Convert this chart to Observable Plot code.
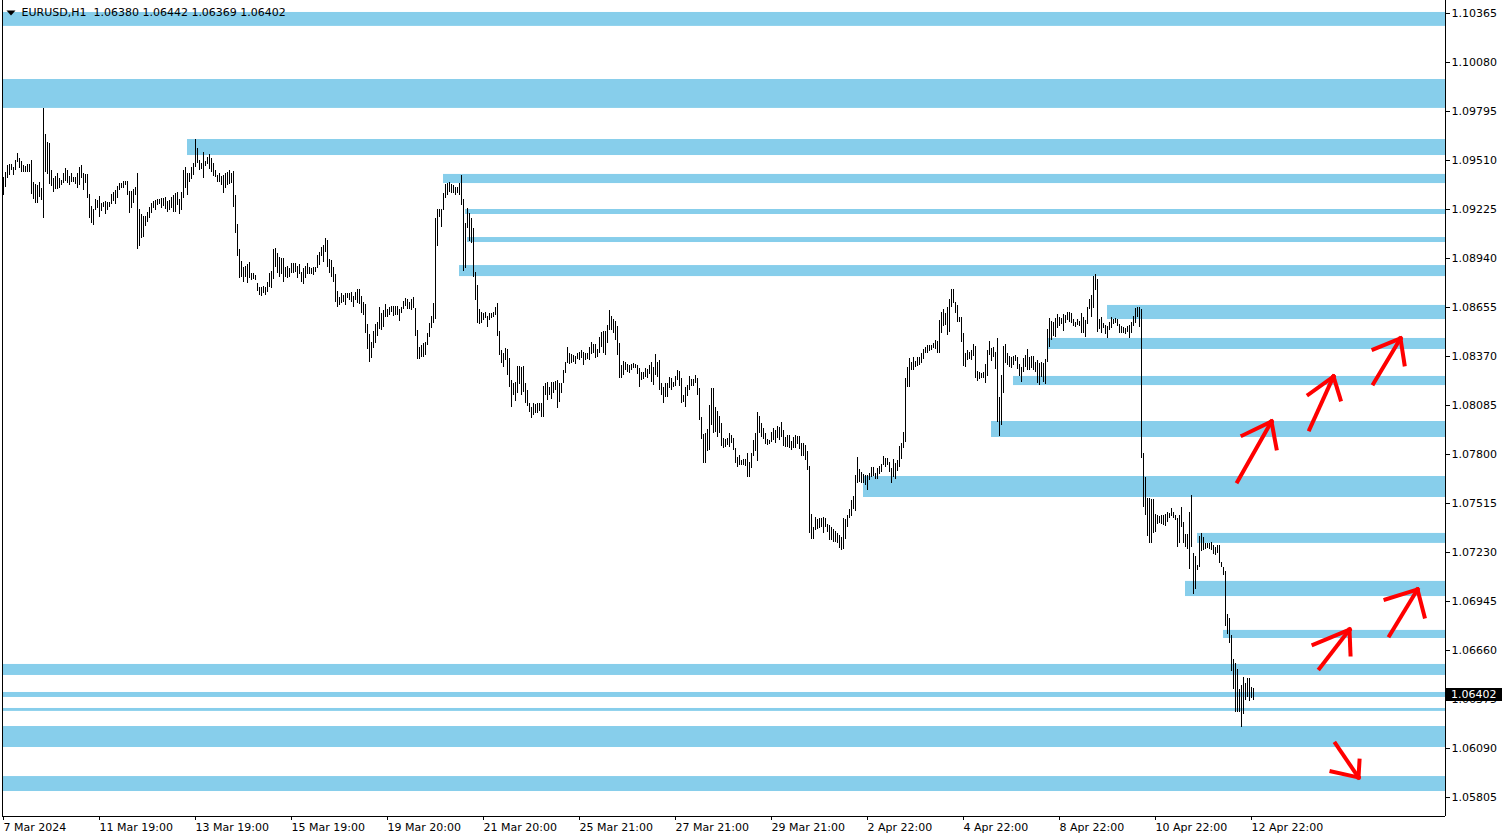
<!DOCTYPE html>
<html><head><meta charset="utf-8">
<script src="https://cdn.jsdelivr.net/npm/d3@7"></script>
<script src="https://cdn.jsdelivr.net/npm/@observablehq/plot@0.6"></script>
<style>
html,body{margin:0;padding:0;background:#fff;}
#chart{width:1508px;height:840px;}
</style></head><body><div id="chart"></div>
<script>
// ---- data ----
const symbolName = "EURUSD,H1";
const lastOHLC = [1.06380, 1.06442, 1.06369, 1.06402];

// hourly bars, one per hour starting 7 Mar 2024 19:00
const highs = [
1.09412,1.09441,1.09481,1.09487,1.09487,1.09470,1.09510,1.09551,1.09522,1.09505,
1.09481,1.09476,1.09487,1.09487,1.09510,1.09383,1.09371,1.09365,1.09383,1.09348,
1.09813,1.09662,1.09615,1.09609,1.09452,1.09406,1.09417,1.09435,1.09406,1.09394,
1.09435,1.09464,1.09452,1.09417,1.09435,1.09412,1.09412,1.09435,1.09470,1.09481,
1.09435,1.09429,1.09429,1.09313,1.09243,1.09226,1.09284,1.09278,1.09301,1.09260,
1.09266,1.09272,1.09266,1.09266,1.09313,1.09324,1.09336,1.09359,1.09377,1.09377,
1.09388,1.09388,1.09388,1.09330,1.09330,1.09342,1.09353,1.09435,1.09226,1.09196,
1.09185,1.09185,1.09208,1.09237,1.09260,1.09272,1.09278,1.09284,1.09284,1.09290,
1.09290,1.09295,1.09272,1.09278,1.09295,1.09307,1.09319,1.09324,1.09284,1.09324,
1.09452,1.09470,1.09435,1.09435,1.09470,1.09493,1.09633,1.09580,1.09510,1.09493,
1.09557,1.09505,1.09528,1.09545,1.09522,1.09493,1.09452,1.09423,1.09435,1.09417,
1.09423,1.09435,1.09441,1.09452,1.09435,1.09447,1.09307,1.09138,1.08993,1.08923,
1.08888,1.08894,1.08906,1.08917,1.08853,1.08853,1.08842,1.08795,1.08772,1.08772,
1.08778,1.08772,1.08801,1.08853,1.08865,1.08993,1.08999,1.08970,1.08946,1.08941,
1.08941,1.08888,1.08894,1.08882,1.08911,1.08911,1.08911,1.08894,1.08906,1.08859,
1.08882,1.08894,1.08911,1.08888,1.08882,1.08888,1.08888,1.08958,1.08975,1.09005,
1.09016,1.09057,1.09045,1.08935,1.08929,1.08888,1.08847,1.08749,1.08714,1.08737,
1.08725,1.08737,1.08737,1.08737,1.08743,1.08720,1.08743,1.08760,1.08760,1.08720,
1.08685,1.08673,1.08557,1.08498,1.08452,1.08516,1.08557,1.08568,1.08656,1.08621,
1.08638,1.08673,1.08644,1.08656,1.08661,1.08661,1.08661,1.08661,1.08644,1.08656,
1.08690,1.08708,1.08702,1.08685,1.08702,1.08714,1.08650,1.08522,1.08423,1.08435,
1.08446,1.08452,1.08504,1.08563,1.08603,1.08679,1.09173,1.09226,1.09226,1.09226,
1.09319,1.09371,1.09377,1.09383,1.09371,1.09365,1.09353,1.09353,1.09377,1.09423,
1.09284,1.09144,1.09231,1.09202,1.09173,1.09115,1.08859,1.08783,1.08644,1.08626,
1.08621,1.08626,1.08603,1.08621,1.08621,1.08626,1.08656,1.08679,1.08516,1.08405,
1.08388,1.08417,1.08411,1.08359,1.08231,1.08214,1.08219,1.08312,1.08312,1.08307,
1.08312,1.08214,1.08173,1.08097,1.08074,1.08097,1.08091,1.08097,1.08097,1.08097,
1.08196,1.08214,1.08219,1.08190,1.08219,1.08219,1.08225,1.08231,1.08214,1.08214,
1.08289,1.08336,1.08423,1.08388,1.08382,1.08376,1.08371,1.08388,1.08394,1.08405,
1.08394,1.08388,1.08388,1.08423,1.08452,1.08440,1.08440,1.08411,1.08481,1.08510,
1.08516,1.08516,1.08551,1.08638,1.08603,1.08586,1.08574,1.08545,1.08446,1.08318,
1.08341,1.08336,1.08324,1.08318,1.08324,1.08330,1.08324,1.08318,1.08301,1.08278,
1.08278,1.08301,1.08295,1.08318,1.08336,1.08307,1.08382,1.08336,1.08347,1.08214,
1.08190,1.08214,1.08214,1.08248,1.08243,1.08219,1.08254,1.08289,1.08283,1.08243,
1.08144,1.08190,1.08202,1.08254,1.08237,1.08237,1.08260,1.08243,1.08184,1.08016,
1.07917,1.07923,1.07946,1.08086,1.08184,1.08184,1.08074,1.08051,1.08022,1.07981,
1.07894,1.07888,1.07894,1.07923,1.07911,1.07894,1.07836,1.07783,1.07795,1.07766,
1.07772,1.07772,1.07806,1.07754,1.07806,1.07882,1.07923,1.08045,1.08022,1.07981,
1.07952,1.07923,1.07888,1.07882,1.07929,1.07952,1.07940,1.07963,1.07958,1.07987,
1.07940,1.07899,1.07911,1.07911,1.07876,1.07899,1.07911,1.07905,1.07905,1.07865,
1.07865,1.07853,1.07818,1.07731,1.07452,1.07376,1.07434,1.07423,1.07428,1.07428,
1.07434,1.07428,1.07393,1.07388,1.07376,1.07364,1.07353,1.07341,1.07329,1.07318,
1.07428,1.07423,1.07446,1.07481,1.07533,1.07556,1.07678,1.07783,1.07713,1.07696,
1.07684,1.07678,1.07678,1.07690,1.07725,1.07725,1.07690,1.07719,1.07731,1.07742,
1.07789,1.07777,1.07777,1.07754,1.07719,1.07772,1.07748,1.07766,1.07847,1.07865,
1.07929,1.08243,1.08307,1.08359,1.08336,1.08365,1.08341,1.08365,1.08365,1.08388,
1.08411,1.08423,1.08435,1.08435,1.08435,1.08446,1.08464,1.08458,1.08580,1.08626,
1.08644,1.08621,1.08656,1.08702,1.08760,1.08760,1.08685,1.08667,1.08597,1.08597,
1.08504,1.08388,1.08405,1.08394,1.08405,1.08440,1.08429,1.08283,1.08278,1.08272,
1.08278,1.08324,1.08405,1.08458,1.08417,1.08423,1.08394,1.08475,1.08132,1.08260,
1.08429,1.08440,1.08388,1.08371,1.08365,1.08371,1.08376,1.08365,1.08324,1.08307,
1.08359,1.08376,1.08411,1.08365,1.08371,1.08371,1.08336,1.08347,1.08330,1.08336,
1.08330,1.08353,1.08528,1.08592,1.08574,1.08568,1.08592,1.08615,1.08597,1.08592,
1.08615,1.08609,1.08626,1.08626,1.08621,1.08586,1.08568,1.08586,1.08574,1.08621,
1.08597,1.08580,1.08656,1.08702,1.08725,1.08836,1.08847,1.08818,1.08586,1.08597,
1.08563,1.08551,1.08545,1.08568,1.08597,1.08586,1.08592,1.08586,1.08557,1.08545,
1.08539,1.08533,1.08545,1.08551,1.08568,1.08603,1.08650,1.08656,1.08656,1.08644,
1.07806,1.07667,1.07545,1.07545,1.07539,1.07539,1.07452,1.07446,1.07440,1.07446,
1.07446,1.07452,1.07463,1.07457,1.07487,1.07463,1.07446,1.07428,1.07446,1.07492,
1.07405,1.07335,1.07335,1.07463,1.07562,1.07225,1.07207,1.07155,1.07324,1.07341,
1.07318,1.07283,1.07283,1.07283,1.07289,1.07271,1.07260,1.07271,1.07271,1.07172,
1.07143,1.07120,1.06870,1.06847,1.06748,1.06608,1.06585,1.06550,1.06434,1.06457,
1.06504,1.06469,1.06498,1.06498,1.06445,1.06442
];
const lows = [
1.09307,1.09353,1.09406,1.09423,1.09452,1.09423,1.09452,1.09499,1.09464,1.09441,
1.09441,1.09441,1.09441,1.09441,1.09313,1.09284,1.09260,1.09260,1.09295,1.09278,
1.09173,1.09441,1.09429,1.09371,1.09359,1.09324,1.09342,1.09342,1.09348,1.09365,
1.09377,1.09388,1.09377,1.09365,1.09383,1.09383,1.09371,1.09348,1.09365,1.09406,
1.09336,1.09377,1.09290,1.09173,1.09144,1.09132,1.09220,1.09231,1.09179,1.09214,
1.09237,1.09196,1.09220,1.09237,1.09255,1.09272,1.09255,1.09290,1.09336,1.09348,
1.09348,1.09365,1.09307,1.09202,1.09231,1.09260,1.09307,1.08993,1.09010,1.09057,
1.09063,1.09127,1.09150,1.09173,1.09202,1.09231,1.09220,1.09249,1.09255,1.09231,
1.09243,1.09226,1.09208,1.09220,1.09231,1.09208,1.09208,1.09249,1.09196,1.09220,
1.09290,1.09348,1.09307,1.09383,1.09400,1.09423,1.09470,1.09493,1.09452,1.09458,
1.09406,1.09476,1.09487,1.09458,1.09441,1.09417,1.09412,1.09383,1.09383,1.09365,
1.09319,1.09348,1.09365,1.09371,1.09377,1.09237,1.09086,1.08952,1.08824,1.08830,
1.08801,1.08830,1.08795,1.08824,1.08813,1.08818,1.08813,1.08749,1.08725,1.08720,
1.08737,1.08725,1.08743,1.08772,1.08766,1.08818,1.08888,1.08853,1.08830,1.08847,
1.08801,1.08830,1.08824,1.08830,1.08853,1.08853,1.08859,1.08824,1.08847,1.08801,
1.08789,1.08824,1.08847,1.08847,1.08847,1.08842,1.08859,1.08882,1.08900,1.08952,
1.08917,1.08975,1.08888,1.08853,1.08830,1.08801,1.08685,1.08656,1.08667,1.08679,
1.08685,1.08667,1.08708,1.08696,1.08685,1.08656,1.08696,1.08679,1.08673,1.08621,
1.08609,1.08504,1.08411,1.08336,1.08359,1.08417,1.08446,1.08487,1.08528,1.08522,
1.08539,1.08597,1.08597,1.08609,1.08626,1.08603,1.08609,1.08609,1.08574,1.08621,
1.08644,1.08661,1.08644,1.08644,1.08638,1.08650,1.08487,1.08353,1.08353,1.08365,
1.08365,1.08376,1.08435,1.08481,1.08533,1.08563,1.08586,1.09010,1.09179,1.09121,
1.09220,1.09290,1.09307,1.09324,1.09319,1.09319,1.09307,1.09319,1.09307,1.09249,
1.08865,1.08882,1.09115,1.09039,1.09028,1.08830,1.08696,1.08563,1.08557,1.08563,
1.08580,1.08592,1.08539,1.08580,1.08592,1.08597,1.08609,1.08487,1.08376,1.08330,
1.08307,1.08347,1.08260,1.08190,1.08074,1.08144,1.08109,1.08155,1.08208,1.08144,
1.08161,1.08097,1.08080,1.08045,1.08010,1.08027,1.08039,1.08039,1.08051,1.08016,
1.08016,1.08144,1.08115,1.08144,1.08121,1.08155,1.08173,1.08068,1.08103,1.08155,
1.08214,1.08272,1.08330,1.08324,1.08330,1.08336,1.08324,1.08353,1.08347,1.08359,
1.08318,1.08347,1.08353,1.08347,1.08382,1.08388,1.08359,1.08365,1.08388,1.08423,
1.08388,1.08376,1.08446,1.08522,1.08522,1.08504,1.08464,1.08376,1.08243,1.08243,
1.08260,1.08289,1.08278,1.08272,1.08289,1.08301,1.08301,1.08266,1.08190,1.08231,
1.08237,1.08248,1.08243,1.08266,1.08219,1.08202,1.08260,1.08248,1.08173,1.08144,
1.08097,1.08132,1.08132,1.08184,1.08173,1.08190,1.08196,1.08231,1.08196,1.08097,
1.08103,1.08074,1.08138,1.08173,1.08196,1.08196,1.08214,1.08144,1.07998,1.07888,
1.07748,1.07748,1.07818,1.07824,1.07969,1.07923,1.07929,1.07899,1.07923,1.07847,
1.07836,1.07841,1.07853,1.07841,1.07865,1.07824,1.07748,1.07725,1.07737,1.07737,
1.07737,1.07731,1.07667,1.07667,1.07719,1.07789,1.07818,1.07760,1.07923,1.07899,
1.07888,1.07859,1.07853,1.07859,1.07870,1.07882,1.07865,1.07894,1.07882,1.07899,
1.07847,1.07841,1.07841,1.07836,1.07824,1.07836,1.07836,1.07859,1.07830,1.07789,
1.07789,1.07766,1.07708,1.07341,1.07306,1.07306,1.07359,1.07364,1.07370,1.07376,
1.07341,1.07376,1.07347,1.07300,1.07300,1.07289,1.07289,1.07283,1.07254,1.07242,
1.07248,1.07306,1.07376,1.07428,1.07440,1.07481,1.07469,1.07632,1.07638,1.07632,
1.07632,1.07620,1.07591,1.07649,1.07667,1.07673,1.07655,1.07655,1.07684,1.07696,
1.07737,1.07725,1.07737,1.07696,1.07632,1.07667,1.07655,1.07702,1.07725,1.07772,
1.07836,1.07870,1.08190,1.08190,1.08289,1.08289,1.08307,1.08312,1.08318,1.08330,
1.08353,1.08388,1.08388,1.08400,1.08405,1.08417,1.08411,1.08388,1.08388,1.08504,
1.08545,1.08551,1.08493,1.08510,1.08656,1.08679,1.08621,1.08568,1.08568,1.08452,
1.08312,1.08307,1.08347,1.08353,1.08347,1.08371,1.08243,1.08225,1.08237,1.08243,
1.08243,1.08214,1.08254,1.08376,1.08341,1.08365,1.08295,1.07987,1.07905,1.07969,
1.08155,1.08330,1.08318,1.08307,1.08301,1.08318,1.08341,1.08295,1.08254,1.08219,
1.08278,1.08307,1.08289,1.08289,1.08301,1.08289,1.08278,1.08214,1.08202,1.08248,
1.08219,1.08208,1.08336,1.08423,1.08464,1.08487,1.08481,1.08533,1.08545,1.08557,
1.08516,1.08563,1.08580,1.08568,1.08563,1.08545,1.08539,1.08551,1.08545,1.08504,
1.08504,1.08481,1.08557,1.08644,1.08597,1.08650,1.08754,1.08510,1.08528,1.08504,
1.08533,1.08498,1.08475,1.08522,1.08533,1.08557,1.08563,1.08545,1.08504,1.08504,
1.08504,1.08498,1.08510,1.08475,1.08504,1.08545,1.08563,1.08597,1.08539,1.07777,
1.07492,1.07446,1.07324,1.07283,1.07283,1.07341,1.07347,1.07393,1.07399,1.07393,
1.07388,1.07382,1.07405,1.07428,1.07440,1.07428,1.07417,1.07260,1.07283,1.07376,
1.07283,1.07260,1.07248,1.07132,1.07260,1.06986,1.07015,1.07126,1.07143,1.07236,
1.07242,1.07248,1.07254,1.07248,1.07242,1.07219,1.07213,1.07225,1.07167,1.07143,
1.07097,1.06800,1.06754,1.06701,1.06539,1.06434,1.06300,1.06300,1.06300,1.06213,
1.06288,1.06370,1.06387,1.06364,1.06382,1.06369
];

// support / resistance zones (start bar, null = from left edge)
const zoneStart = [null, null, 92, 220, 231, 232, 228, 552, 522.5, 505, 494, 430, 597, 591, 610, null, null, null, null, null];
const zoneHigh  = [1.10371, 1.09981, 1.09632, 1.09429, 1.09225, 1.09062, 1.08899, 1.08667, 1.08475, 1.08254, 1.07992, 1.07672, 1.07341, 1.07062, 1.06777, 1.06579, 1.06416, 1.06323, 1.06218, 1.05927];
const zoneLow   = [1.10290, 1.09813, 1.09539, 1.09376, 1.09196, 1.09033, 1.08835, 1.08585, 1.08411, 1.08201, 1.07899, 1.07550, 1.07283, 1.06974, 1.06730, 1.06515, 1.06387, 1.06306, 1.06096, 1.05840];

// price axis ticks
const priceTicks = [1.10365, 1.10080, 1.09795, 1.09510, 1.09225, 1.08940, 1.08655, 1.08370, 1.08085, 1.07800, 1.07515, 1.07230, 1.06945, 1.06660, 1.06375, 1.06090, 1.05805];

// time axis ticks (bar index) and labels
const timeTickBars = [0, 48, 96, 144, 192, 240, 288, 336, 384, 432, 480, 528, 576, 624];
const timeTickLabels = ["7 Mar 2024", "11 Mar 19:00", "13 Mar 19:00", "15 Mar 19:00", "19 Mar 20:00", "21 Mar 20:00", "25 Mar 21:00", "27 Mar 21:00", "29 Mar 21:00", "2 Apr 22:00", "4 Apr 22:00", "8 Apr 22:00", "10 Apr 22:00", "12 Apr 22:00"];

// hand-drawn arrows (bar index, price): tail, tip, two head wings
const arrowTailX = [617, 653, 685, 693, 658, 666];
const arrowTailY = [1.07643, 1.07946, 1.08213, 1.06747, 1.06556, 1.06119];
const arrowTipX  = [634, 665, 698.5, 707, 673, 677.5];
const arrowTipY  = [1.07992, 1.08254, 1.08475, 1.07015, 1.06782, 1.05922];
const wingAX = [619.5, 652.5, 685, 691, 655, 664];
const wingAY = [1.07911, 1.08149, 1.08411, 1.06957, 1.06695, 1.05957];
const wingBX = [636.5, 668.5, 700.5, 710.5, 673.5, 678];
const wingBY = [1.07835, 1.08120, 1.08324, 1.06858, 1.06637, 1.06020];

// visible window
const xDomain = [-0.5, 721];
const yDomain = [1.056947, 1.104406];

// ---- build tables ----
const bars = highs.map((h, i) => ({i, high: h, low: lows[i]}));
const zones = zoneHigh.map((h, k) => ({x1: zoneStart[k] == null ? xDomain[0] : zoneStart[k], x2: xDomain[1], y1: h, y2: zoneLow[k]}));
const segs = [];
arrowTipX.forEach((tx, k) => {
  const ty = arrowTipY[k];
  segs.push({x1: arrowTailX[k], y1: arrowTailY[k], x2: tx, y2: ty});
  segs.push({x1: wingAX[k], y1: wingAY[k], x2: tx, y2: ty});
  segs.push({x1: wingBX[k], y1: wingBY[k], x2: tx, y2: ty});
});
const header = symbolName + "\u00a0\u00a0" + lastOHLC.map(v => v.toFixed(5)).join(" ");
const downTriangle = {draw(ctx) { ctx.moveTo(-4.5, -2.5); ctx.lineTo(4.5, -2.5); ctx.lineTo(0, 2.5); ctx.closePath(); }};

const chart = Plot.plot({
  width: 1508, height: 840,
  marginTop: 0, marginLeft: 2, marginRight: 63, marginBottom: 24,
  x: {domain: xDomain, label: null},
  y: {domain: yDomain, label: null},
  style: {fontFamily: "'DejaVu Sans', sans-serif", fontSize: "11px", background: "white", color: "black", overflow: "visible"},
  marks: [
    Plot.rect(zones, {x1: "x1", x2: "x2", y1: "y1", y2: "y2", fill: "#87ceeb"}),
    Plot.ruleX(bars, {x: "i", y1: "low", y2: "high", stroke: "black", strokeWidth: 1, shapeRendering: "crispEdges"}),
    Plot.link(segs, {x1: "x1", y1: "y1", x2: "x2", y2: "y2", stroke: "#ff0000", strokeWidth: 4, strokeLinecap: "square"}),
    Plot.ruleX(xDomain, {stroke: "black", shapeRendering: "crispEdges"}),
    Plot.ruleY([yDomain[0]], {stroke: "black", shapeRendering: "crispEdges"}),
    Plot.axisY({anchor: "right", ticks: priceTicks, tickFormat: d => d.toFixed(5), tickSize: 4, tickPadding: 2, fontSize: 11, label: null}),
    Plot.axisX({anchor: "bottom", ticks: timeTickBars, tickFormat: (d, i) => timeTickLabels[i], tickSize: 4, tickPadding: 3, textAnchor: "start", fontSize: 11, label: null}),
    Plot.text([header], {text: d => d, frameAnchor: "top-left", dx: 19, dy: 8, lineAnchor: "top", textAnchor: "start", fill: "black", fontSize: 11}),
    Plot.dot([0], {frameAnchor: "top-left", dx: 8.5, dy: 12.5, symbol: downTriangle, fill: "black", stroke: "none"})
  ]
});

// current price label on the price axis
const ys = chart.scale("y");
const xs = chart.scale("x");
const py = Math.round(ys.apply(lastOHLC[3]));
const bx = xs.range[1] + 1;
const svg = d3.select(chart);
svg.append("rect").attr("x", bx).attr("y", py - 6).attr("width", 56).attr("height", 13).attr("fill", "black");
svg.append("text").attr("x", bx + 5).attr("y", py).attr("dy", "0.36em").attr("text-anchor", "start")
  .attr("fill", "white").attr("font-size", 11).text(lastOHLC[3].toFixed(5));

document.getElementById("chart").appendChild(chart);
</script>
</body></html>
